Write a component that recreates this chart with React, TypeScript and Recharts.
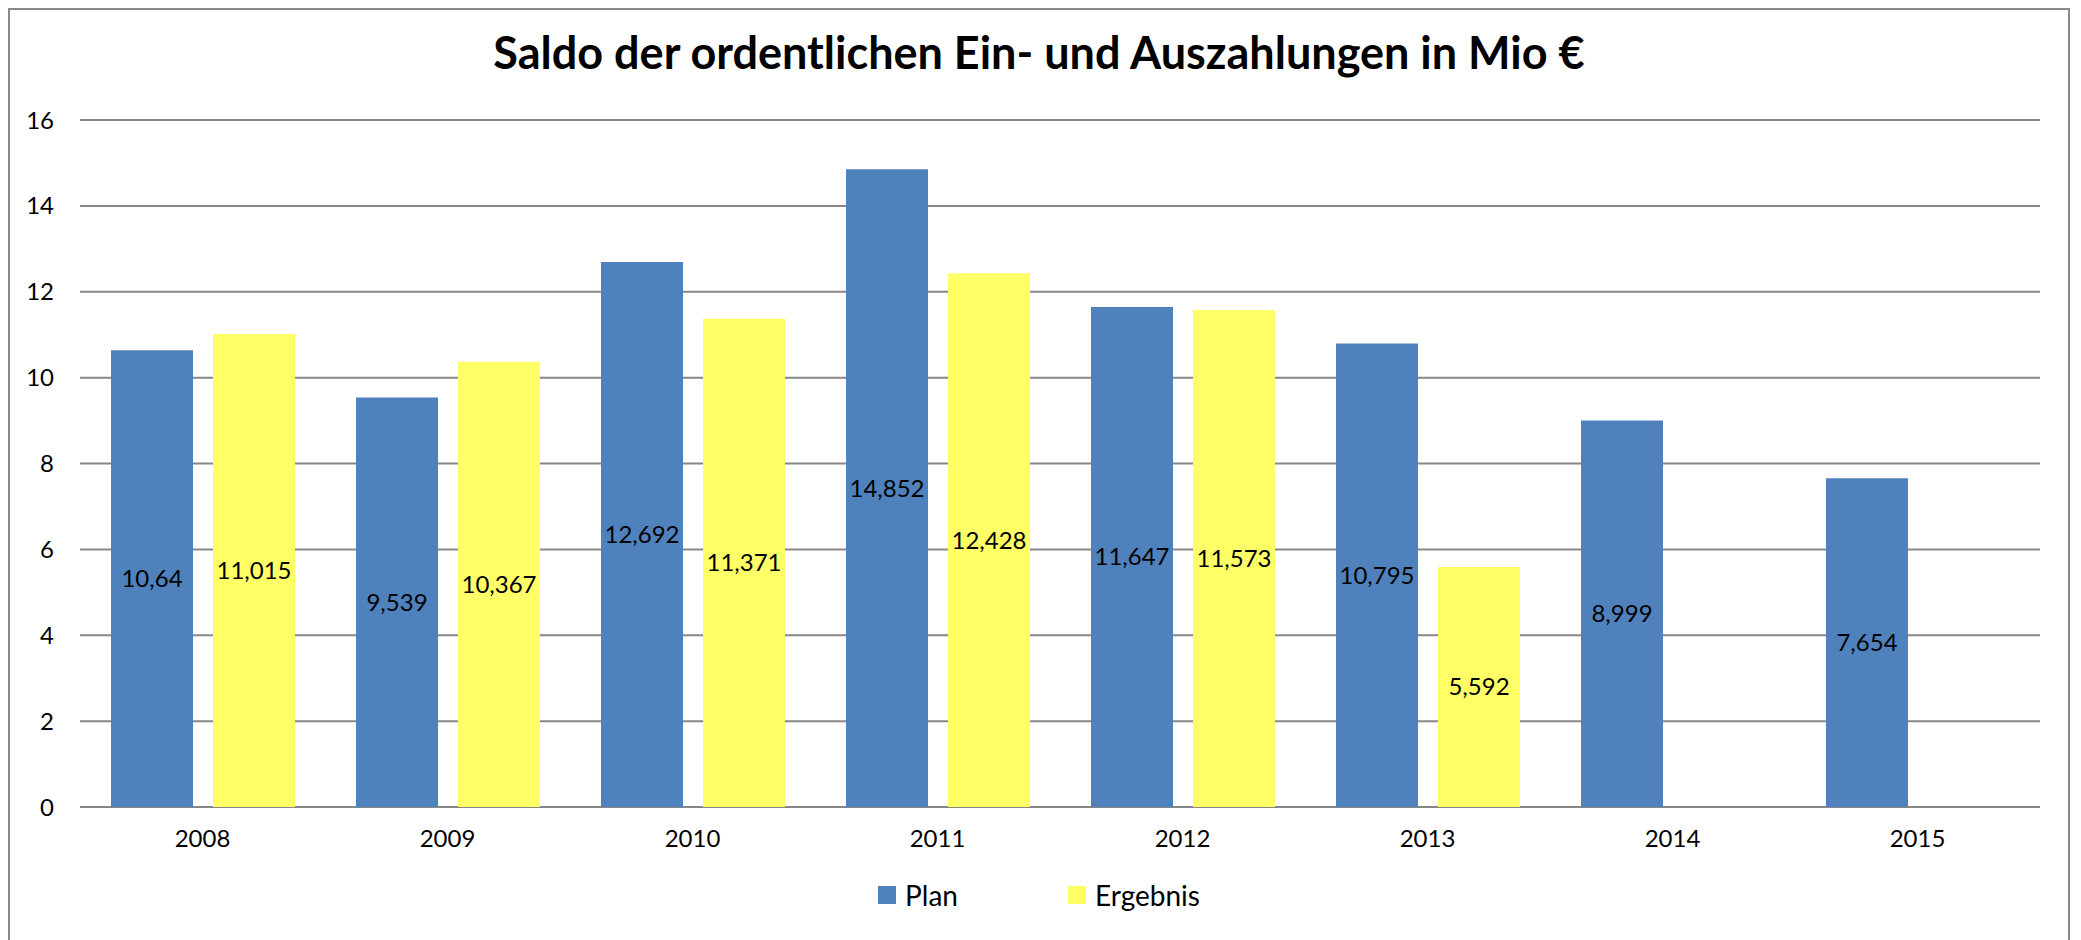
import { Bar, BarChart, CartesianGrid, LabelList, XAxis, YAxis } from 'recharts';

const years = ['2008', '2009', '2010', '2011', '2012', '2013', '2014', '2015'];
const plan = [10.64, 9.539, 12.692, 14.852, 11.647, 10.795, 8.999, 7.654];
const ergebnis = [11.015, 10.367, 11.371, 12.428, 11.573, 5.592, null, null];
const yTicks = [0, 2, 4, 6, 8, 10, 12, 14, 16];

const PLAN_COLOR = '#4f81bd';
const ERG_COLOR = '#ffff66';
const FONT = 'Lato, "Open Sans", sans-serif';

const data = years.map((y, i) => ({ year: y, plan: plan[i], ergebnis: ergebnis[i] }));

// german decimal comma, no trailing zeros
const fmt = (v: any) => (v == null ? '' : String(v).replace('.', ','));

export default function App() {
  return (
    <div style={{ position: 'fixed', top: 0, left: 0, width: 2081, height: 940, overflow: 'hidden', background: '#fff' }}>
      <div
        style={{
          position: 'absolute',
          left: 8,
          top: 8,
          width: 2058,
          height: 1000,
          border: '2px solid #8a8a8a',
          fontFamily: FONT,
        }}
      >
        {/* title */}
        <div
          style={{
            position: 'absolute',
            top: 20,
            left: 0,
            width: '100%',
            textAlign: 'center',
            fontSize: 45,
            lineHeight: '45px',
            fontWeight: 700,
            color: '#000',
          }}
        >
          Saldo der ordentlichen Ein- und Auszahlungen in Mio €
        </div>

        <BarChart
          width={2058}
          height={930}
          data={data}
          margin={{ top: 110, right: 28, left: 0, bottom: 73 }}
          barSize={82}
          barGap={20}
        >
          <CartesianGrid vertical={false} stroke="#878787" strokeWidth={2} />
          <XAxis
            dataKey="year"
            axisLine={false}
            tickLine={false}
            tickSize={0}
            tickMargin={23}
            height={60}
            tick={{ fill: '#000', fontSize: 24, fontFamily: FONT }}
          />
          <YAxis
            domain={[0, 16]}
            ticks={yTicks}
            axisLine={false}
            tickLine={false}
            tickSize={0}
            tickMargin={26}
            width={70}
            tick={{ fill: '#000', fontSize: 24, fontFamily: FONT }}
          />
          <Bar dataKey="plan" fill={PLAN_COLOR} isAnimationActive={false}>
            <LabelList dataKey="plan" position="center" formatter={fmt} fill="#000" fontSize={24} fontFamily={FONT} />
          </Bar>
          <Bar dataKey="ergebnis" fill={ERG_COLOR} isAnimationActive={false}>
            <LabelList dataKey="ergebnis" position="center" formatter={fmt} fill="#000" fontSize={24} fontFamily={FONT} />
          </Bar>
        </BarChart>

        {/* legend */}
        <div
          style={{
            position: 'absolute',
            top: 871,
            left: 0,
            width: '100%',
            display: 'flex',
            justifyContent: 'center',
            gap: 110,
            fontSize: 28,
            lineHeight: '28px',
            color: '#000',
          }}
        >
          {[
            { name: 'Plan', color: PLAN_COLOR },
            { name: 'Ergebnis', color: ERG_COLOR },
          ].map(item => (
            <div key={item.name} style={{ display: 'flex', alignItems: 'center', gap: 9 }}>
              <span style={{ width: 18, height: 18, background: item.color, display: 'inline-block' }} />
              <span>{item.name}</span>
            </div>
          ))}
        </div>
      </div>
    </div>
  );
}
